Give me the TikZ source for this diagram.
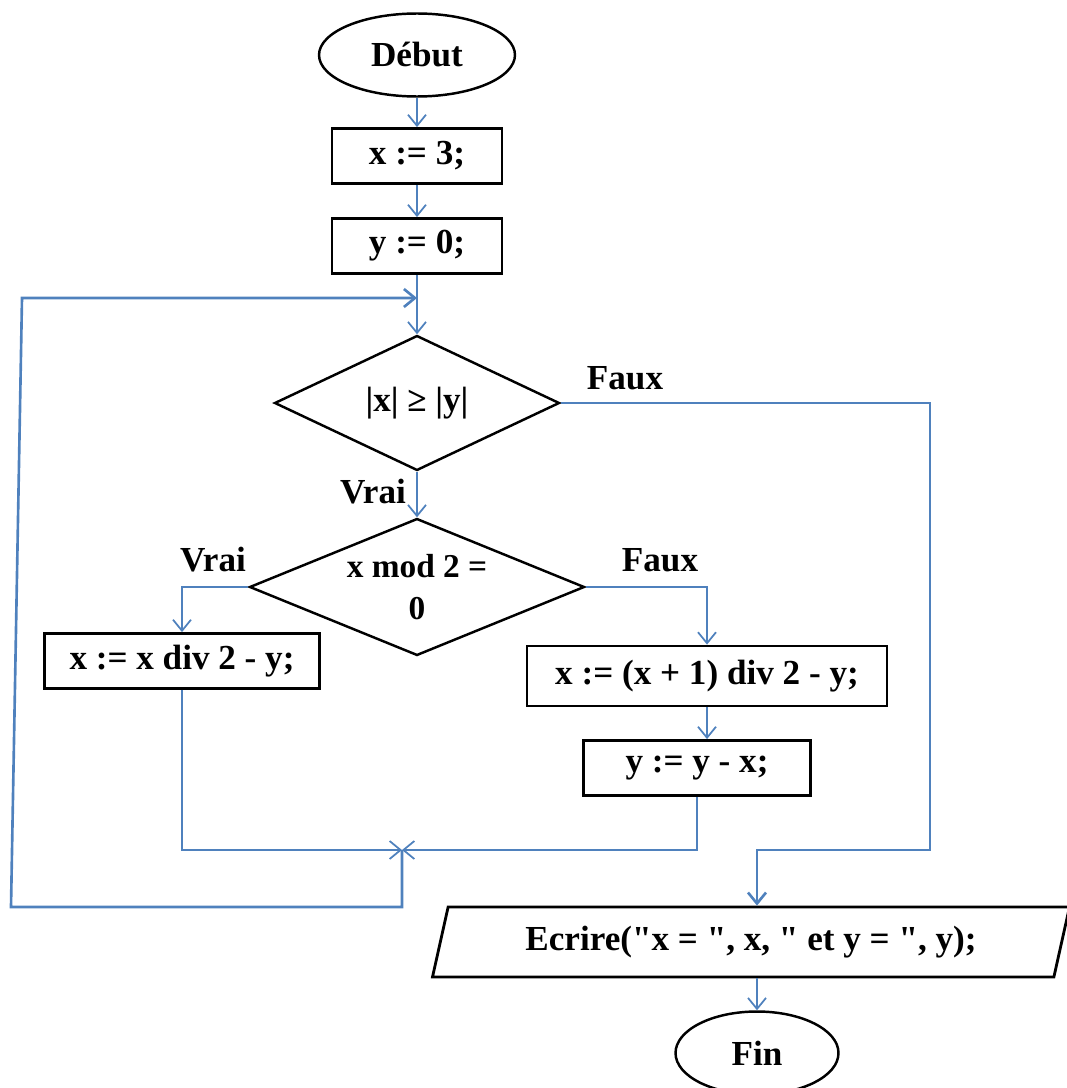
\documentclass[tikz,border=0pt]{standalone}
\usepackage{fontspec}
\setmainfont{Liberation Serif}
\usetikzlibrary{arrows.meta, shapes.geometric}
\definecolor{sblue}{HTML}{4F81BD}
\tikzset{
  >=Straight Barb,
  font=\fontsize{20}{22}\selectfont\bfseries,
  box/.style={
    draw, line width=1.6pt, inner sep=0pt,
    minimum width=#1, minimum height=1.1cm
  },
  term/.style={
    draw, ellipse, line width=1.4pt, inner sep=0pt,
    minimum width=#1, minimum height=1.66cm
  },
  test/.style={
    draw, diamond, aspect=2, line width=1.4pt, inner sep=0pt,
    align=center, minimum width=#1, minimum height=2.7cm
  },
  io/.style={
    draw, trapezium, trapezium left angle=70, trapezium right angle=110,
    trapezium stretches=true, line width=1.6pt, inner sep=0pt,
    minimum width=12.78cm, minimum height=1.4cm
  },
  flowline/.style={draw=sblue, line width=1pt, -{Straight Barb[length=2.2mm, width=3.6mm]}},
  lab/.style={font=\fontsize{20}{22}\selectfont\bfseries}
}

\begin{document}
\begin{tikzpicture}[x=0.02cm, y=-0.02cm]
  \useasboundingbox (0,0) rectangle (1067,1088);
  % steps
  \node[term=3.92cm] (debut) at (417,55) {Début};
  \node[box=3.4cm] (x3) at (417,156) {x := 3;};
  \node[box=3.4cm] (y0) at (417,246) {y := 0;};
  \node[test=5.7cm] (d1) at (417,403) {|x| ≥ |y|};
  \node[test=6.7cm, minimum height=2.74cm, font=\fontsize{19}{24}\selectfont\bfseries] (d2) at (417,587) {x mod 2 =\\0};
  \node[box=5.5cm] (bl) at (182,661) {x := x div 2 - y;};
  \node[box=7.2cm, minimum height=1.2cm] (br) at (707,676) {x := (x + 1) div 2 - y;};
  \node[box=4.54cm] (bb) at (697,768) {y := y - x;};
  \node[io] (out) at (751,942) {Ecrire(\textquotedbl x = \textquotedbl, x, \textquotedbl{} et y = \textquotedbl, y);};
  \node[term=3.26cm] (fin) at (757,1053) {Fin};
  % branch labels
  \node[lab] (f1) at (625,378) {Faux};
  \node[lab] (v1) at (373,492) {Vrai};
  \node[lab] (v2) at (213,560) {Vrai};
  \node[lab] (f2) at (660,560) {Faux};
  \coordinate (jn) at (402,850);
  \coordinate (loop) at (417,298);
  % connectors
  \draw[flowline] (debut) -- (x3);
  \draw[flowline] (x3) -- (y0);
  \draw[flowline] (y0) -- (d1);
  \draw[flowline, line width=1.5pt] (d1.east) -- (930,403) -- (930,850) -| (fin |- out.north);
  \draw[flowline] (d1) -- (d2);
  \draw[flowline] (d2.west) -| (bl);
  \draw[flowline] (d2.east) -| (br);
  \draw[flowline] (br) -- (br |- bb.north);
  \draw[flowline] (bl) |- (jn);
  \draw[flowline] (bb) |- (jn);
  \draw[flowline, line width=1.5pt] (jn) -- ++(0,57) -- (11,907) -- (22,298) -- (loop);
  \draw[flowline] (fin |- out.south) -- (fin);
\end{tikzpicture}
\end{document}
